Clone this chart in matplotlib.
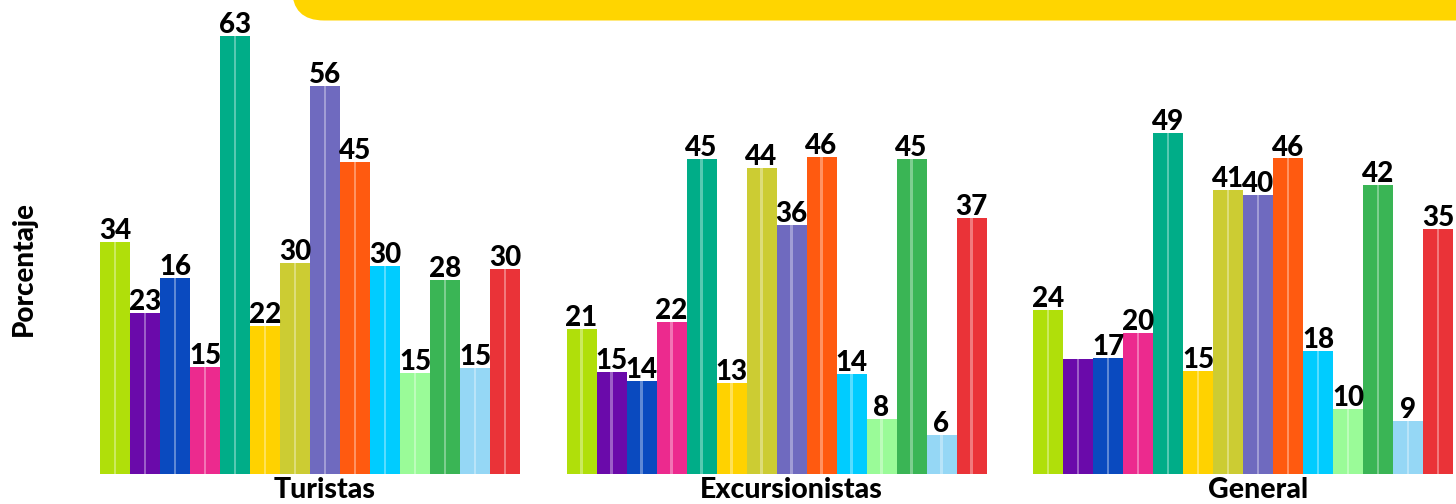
import matplotlib
matplotlib.use("Agg")
import matplotlib.pyplot as plt
import matplotlib.patches as mpatches
from matplotlib.transforms import IdentityTransform
import numpy as np

plt.rcParams['font.family'] = ['Lato', 'DejaVu Sans']

# grupos y valores (alturas, etiquetas tal como aparecen)
grupos = ['Turistas', 'Excursionistas', 'General']

turistas_h = [33.4, 23.2, 28.2, 15.4, 63.0, 21.3, 30.4, 55.8, 44.9, 29.9, 14.5, 27.9, 15.3, 29.5]
turistas_lbl = ['34', '23', '16', '15', '63', '22', '30', '56', '45', '30', '15', '28', '15', '30']

excursionistas_h = [20.9, 14.7, 13.4, 21.9, 45.3, 13.1, 44.0, 35.8, 45.6, 14.4, 7.9, 45.3, 5.6, 36.8]
excursionistas_lbl = ['21', '15', '14', '22', '45', '13', '44', '36', '46', '14', '8', '45', '6', '37']

general_h = [23.6, 16.6, 16.7, 20.3, 49.1, 14.8, 40.9, 40.2, 45.4, 17.7, 9.4, 41.6, 7.6, 35.3]
general_lbl = ['24', '', '17', '20', '49', '15', '41', '40', '46', '18', '10', '42', '9', '35']

colores = ['#B0DF0A', '#6A0AAA', '#0A4ABF', '#EC2A8E', '#00AD88', '#FFD200', '#CCCC33',
           '#6F6ABF', '#FF5A10', '#00CCFF', '#9AFB98', '#3AB555', '#95D7F5', '#EA3338']

alturas = [turistas_h, excursionistas_h, general_h]
etiquetas = [turistas_lbl, excursionistas_lbl, general_lbl]

W, H = 1456, 504
fig = plt.figure(figsize=(W / 100, H / 100), dpi=100)

# ejes: 30 px por barra, linea base a 30 px del borde inferior
px_bar = 30.0
base_px = 30
ax = fig.add_axes([0, base_px / H, 1, 1 - base_px / H])
paso = 15.55
n = len(colores)
x_left = -0.5 - 100 / px_bar
ax.set_xlim(x_left, x_left + W / px_bar)
ax.set_ylim(0, (H - base_px) / 6.95)

for g, (hs, lbls) in enumerate(zip(alturas, etiquetas)):
    xs = g * paso + np.arange(n)
    ax.bar(xs, hs, width=1.0, color=colores, edgecolor='none', zorder=2)
    # franja clara al centro de cada barra
    ax.bar(xs, hs, width=0.07, color='white', alpha=0.35, edgecolor='none', zorder=3)
    for x, h, t in zip(xs, hs, lbls):
        if t:
            ax.annotate(t, (x, h), xytext=(0, 2), textcoords='offset points',
                        ha='center', va='baseline', fontsize=20, fontweight='black',
                        color='black', zorder=4)

ax.set_xticks([g * paso + 7 for g in range(len(grupos))])
ax.set_xticklabels(grupos, fontsize=20.5, fontweight='black')
ax.tick_params(axis='x', length=0, pad=2)
ax.set_yticks([])
for s in ax.spines.values():
    s.set_visible(False)

fig.text(24 / W, 0.468, 'Porcentaje', rotation=90, ha='center', va='center',
         fontsize=20, fontweight='black')

# banda amarilla del titulo (cortada en el borde superior)
banda = mpatches.FancyBboxPatch((292, H - 20.5), 1300, 100,
                                boxstyle='round,pad=0,rounding_size=32',
                                facecolor='#FFD500', edgecolor='none',
                                transform=IdentityTransform())
fig.add_artist(banda)

fig.savefig('out.png', dpi=100)
